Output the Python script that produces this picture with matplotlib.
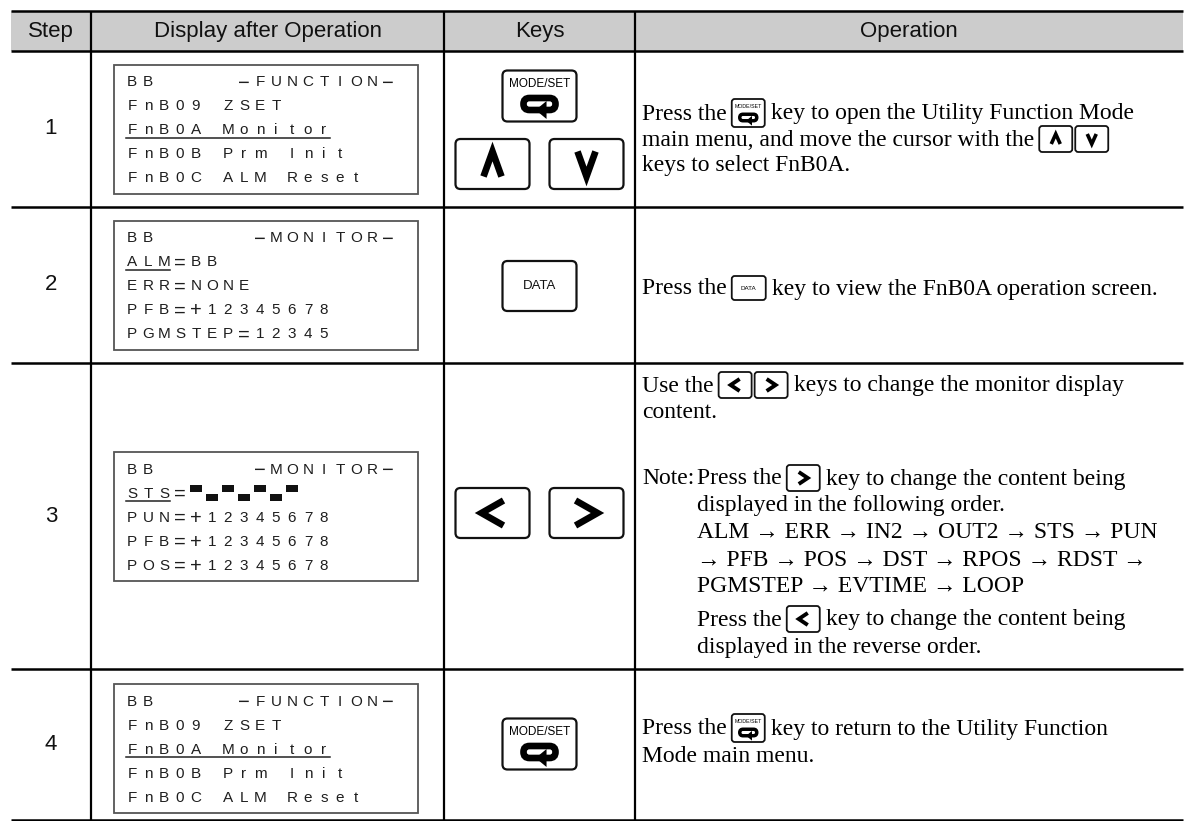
import re
import matplotlib
matplotlib.use("Agg")
import matplotlib.pyplot as plt
from matplotlib.patches import FancyBboxPatch, Rectangle, Polygon

# ---------------- data ----------------
headers = ["Step", "Display after Operation", "Keys", "Operation"]
steps = ["1", "2", "3", "4"]

lcd_step1 = ["BB     −FUNCTION−", "FnB09 ZSET", "FnB0A Monitor", "FnB0B Prm Init", "FnB0C ALM Reset"]
lcd_step2 = ["BB      −MONITOR−", "ALM=BB", "ERR=NONE", "PFB=+12345678", "PGMSTEP=12345"]
lcd_step3 = ["BB      −MONITOR−", "STS=", "PUN=+12345678", "PFB=+12345678", "POS=+12345678"]
lcd_step4 = ["BB     −FUNCTION−", "FnB09 ZSET", "FnB0A Monitor", "FnB0B Prm Init", "FnB0C ALM Reset"]
lcd_screens = [lcd_step1, lcd_step2, lcd_step3, lcd_step4]
# (line, first col, last col) underlined
lcd_underlines = [(2, 0, 12), (1, 0, 2), (1, 0, 2), (2, 0, 12)]
sts_pattern = [1, 0, 1, 0, 1, 0, 1]   # 1 = upper segment, 0 = lower segment

op_step1 = ["Press the {MODE} key to open the Utility Function Mode",
            "main menu, and move the cursor with the {UP}{DOWN}",
            "keys to select FnB0A."]
op_step2 = ["Press the {DATA} key to view the FnB0A operation screen."]
op_step3 = ["Use the {LEFT}{RIGHT} keys to change the monitor display",
            "content.",
            "Note:",
            "Press the {RIGHT} key to change the content being",
            "displayed in the following order.",
            "ALM → ERR → IN2 → OUT2 → STS → PUN",
            "→ PFB → POS → DST → RPOS → RDST →",
            "PGMSTEP → EVTIME → LOOP",
            "Press the {LEFT} key to change the content being",
            "displayed in the reverse order."]
op_step4 = ["Press the {MODE} key to return to the Utility Function",
            "Mode main menu."]
op_texts = [op_step1, op_step2, op_step3, op_step4]

# ---------------- layout ----------------
W, H = 1187, 821
col_x = [11, 91, 444, 635, 1183]
row_y = [11, 51, 207, 363, 669, 820]
op_x = 642
op_indent = 697
op_layout = [
    [(op_x, 112), (op_x, 138), (op_x, 164)],
    [(op_x, 287)],
    [(op_x, 384), (op_x, 411), (op_x, 477), (op_indent, 477), (op_indent, 504),
     (op_indent, 531), (op_indent, 558), (op_indent, 585), (op_indent, 618), (op_indent, 645)],
    [(op_x, 727), (op_x, 754)],
]
lcd_box_top = [65, 221, 452, 684]
lcd_left, lcd_right, lcd_h = 114, 418, 129
lcd_line_off = [16, 40, 64, 88, 112]
lcd_x0, lcd_pitch = 132, 16
OP_FS = 17

fig = plt.figure(figsize=(W / 100, H / 100), dpi=100)
ax = fig.add_axes([0, 0, 1, 1])
ax.set_xlim(0, W)
ax.set_ylim(H, 0)
ax.axis("off")
renderer = fig.canvas.get_renderer()

SANS = ["Liberation Sans", "DejaVu Sans"]
SERIF = ["Liberation Serif", "DejaVu Serif"]

# header background and grid
ax.add_patch(Rectangle((col_x[0], row_y[0]), col_x[-1] - col_x[0], row_y[1] - row_y[0],
                       fc="#cccccc", ec="none", zorder=0))
for y in row_y:
    ax.plot([col_x[0], col_x[-1]], [y, y], color="black", lw=1.8, solid_capstyle="butt", zorder=3)
for x in col_x[1:-1]:
    ax.plot([x, x], [row_y[0], row_y[-1]], color="black", lw=1.6, solid_capstyle="butt", zorder=3)

for i, h in enumerate(headers):
    ax.text((col_x[i] + col_x[i + 1]) / 2, (row_y[0] + row_y[1]) / 2 + 1, h, ha="center",
            va="center", fontsize=16, family=SANS, color="#111111")

for i, s in enumerate(steps):
    ax.text((col_x[0] + col_x[1]) / 2, (row_y[i + 1] + row_y[i + 2]) / 2, s, ha="center",
            va="center", fontsize=16, family=SANS, color="#111111")


# ---------------- helpers ----------------
def rbox(cx, cy, w, h, lw=1.5, r=4, z=4):
    ax.add_patch(FancyBboxPatch((cx - w / 2, cy - h / 2), w, h,
                                boxstyle=f"round,pad=0,rounding_size={r}",
                                fc="white", ec="#111111", lw=lw, zorder=z))


def chevron(cx, cy, d, w, h, lw, z=5):
    if d == "LEFT":
        pts = [(cx + w / 2, cy - h / 2), (cx - w / 2, cy), (cx + w / 2, cy + h / 2)]
    elif d == "RIGHT":
        pts = [(cx - w / 2, cy - h / 2), (cx + w / 2, cy), (cx - w / 2, cy + h / 2)]
    elif d == "UP":
        pts = [(cx - w / 2, cy + h / 2), (cx, cy - h / 2), (cx + w / 2, cy + h / 2)]
    else:
        pts = [(cx - w / 2, cy - h / 2), (cx, cy + h / 2), (cx + w / 2, cy - h / 2)]
    xs, ys = zip(*pts)
    ax.plot(xs, ys, color="black", lw=lw, solid_joinstyle="miter", solid_capstyle="butt", zorder=z)


def return_sym(cx, cy, w, h, lw, z=5):
    ax.add_patch(FancyBboxPatch((cx - w / 2, cy - h / 2), w, h,
                                boxstyle=f"round,pad=0,rounding_size={h / 2}",
                                fc="none", ec="black", lw=lw, zorder=z))
    a = h * 0.75
    ax.add_patch(Polygon([(cx - w * 0.12, cy + h / 2), (cx + w * 0.22, cy + h / 2 - a),
                          (cx + w * 0.22, cy + h / 2 + a)], closed=True, fc="black", ec="none",
                         zorder=z + 1))


def big_key(kind, cx, cy):
    if kind == "MODE":
        rbox(cx, cy, 74, 51, lw=1.6, r=5)
        ax.text(cx, cy - 12, "MODE/SET", ha="center", va="center", fontsize=8.5,
                family=SANS, color="black", zorder=6)
        return_sym(cx, cy + 8, 32, 12, 4.8)
    elif kind == "DATA":
        rbox(cx, cy, 74, 50, lw=1.6, r=5)
        ax.text(cx, cy, "DATA", ha="center", va="center", fontsize=9.5, family=SANS,
                color="#111111", zorder=6)
    else:
        rbox(cx, cy, 74, 50, lw=1.6, r=5)
        if kind in ("LEFT", "RIGHT"):
            chevron(cx, cy, kind, 22, 25, 4.8)
        else:
            chevron(cx, cy, kind, 18, 25, 4.8)


def small_key(kind, x, yc):
    if kind == "MODE":
        w, h = 33, 28
        cx, cy = x + w / 2, yc
        rbox(cx, cy, w, h, lw=1.3, r=3)
        ax.text(cx, cy - 6.5, "MODE/SET", ha="center", va="center", fontsize=3.8,
                family=SANS, zorder=6)
        return_sym(cx, cy + 4.5, 17, 6.5, 2.5)
    elif kind == "DATA":
        w, h = 34, 24
        cx, cy = x + w / 2, yc
        rbox(cx, cy, w, h, lw=1.3, r=3)
        ax.text(cx, cy, "DATA", ha="center", va="center", fontsize=4.5, family=SANS, zorder=6)
    else:
        w, h = 33, 26
        cx, cy = x + w / 2, yc
        rbox(cx, cy, w, h, lw=1.3, r=3)
        if kind in ("LEFT", "RIGHT"):
            chevron(cx, cy, kind, 9, 12, 2.8)
        else:
            chevron(cx, cy, kind, 9, 10, 2.6)
    return w


def rich(x, yc, s, fs=OP_FS):
    parts = [p for p in re.split(r"(\{\w+\})", s) if p != ""]
    prev_icon = False
    for p in parts:
        if p.startswith("{"):
            x += 5 if not prev_icon else 3
            x += small_key(p[1:-1], x, yc + 1)
            prev_icon = True
        else:
            txt = p.strip()
            if prev_icon:
                x += 6
            t = ax.text(x, yc + 7.5, txt, ha="left", va="baseline", fontsize=fs,
                        family=SERIF, color="black", zorder=6)
            x += t.get_window_extent(renderer=renderer).width
            prev_icon = False


# ---------------- LCD panels ----------------
BIG_SYM = {"=": 14.5, "+": 14.5, "−": 14.5}
for k, lines in enumerate(lcd_screens):
    top = lcd_box_top[k]
    ax.add_patch(Rectangle((lcd_left, top), lcd_right - lcd_left, lcd_h, fc="white",
                           ec="#555555", lw=1.3, zorder=2))
    for li, line in enumerate(lines):
        yc = top + lcd_line_off[li]
        for ci, ch in enumerate(line):
            if ch == " ":
                continue
            if ch in BIG_SYM:
                ax.text(lcd_x0 + ci * lcd_pitch, yc, ch, ha="center", va="center_baseline",
                        fontsize=BIG_SYM[ch], family=SANS, color="#1e1e1e", zorder=4)
            else:
                ax.text(lcd_x0 + ci * lcd_pitch, yc + 5.5, ch, ha="center", va="baseline",
                        fontsize=11, family=SANS, color="#1e1e1e", zorder=4)
    ul, c0, c1 = lcd_underlines[k]
    yu = top + lcd_line_off[ul] + 9
    ax.plot([lcd_x0 + c0 * lcd_pitch - 6, lcd_x0 + c1 * lcd_pitch + 6], [yu, yu],
            color="#222222", lw=1.1, zorder=4)
    if k == 2:
        yc = top + lcd_line_off[1]
        for j, up in enumerate(sts_pattern):
            cxb = lcd_x0 + (4 + j) * lcd_pitch
            y0 = yc - 7 if up else yc + 2
            ax.add_patch(Rectangle((cxb - 6, y0), 12, 7, fc="#111111", ec="none", zorder=4))

# ---------------- keys ----------------
kc = (col_x[2] + col_x[3]) / 2
big_key("MODE", kc, 96)
big_key("UP", kc - 47, 164)
big_key("DOWN", kc + 47, 164)
big_key("DATA", kc, 286)
big_key("LEFT", kc - 47, 513)
big_key("RIGHT", kc + 47, 513)
big_key("MODE", kc, 744)

# ---------------- operation text ----------------
for lines, lay in zip(op_texts, op_layout):
    for s, (x, y) in zip(lines, lay):
        rich(x, y, s)

fig.savefig("out.png", dpi=100)
